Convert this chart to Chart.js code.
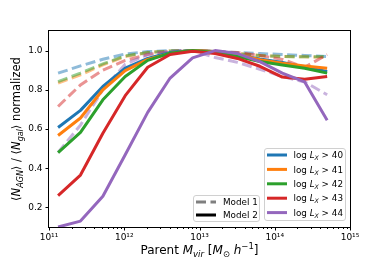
<!DOCTYPE html>
<html lang="en">
<head>
  <meta charset="UTF-8" />
  <title>AGN fraction vs parent halo mass</title>
  <style>
    body { margin: 0; background: #fff; }
    canvas { display: block; }
  </style>
  <script src="https://cdn.jsdelivr.net/npm/chart.js"></script>
</head>
<body>
  <canvas id="chart" width="390" height="260"></canvas>
  <script>
    // DATA
    const MASS = [1.32e11, 2.62e11, 5.2e11, 1.03e12, 2.05e12, 4.07e12, 8.09e12,
                  1.61e13, 3.19e13, 6.34e13, 1.26e14, 2.5e14, 4.97e14];

    // Model 1 (dashed, faded)
    const M1_L40 = [0.885, 0.922, 0.956, 0.983, 0.995, 1.0, 1.0, 0.995, 0.99, 0.985, 0.98, 0.975, 0.97];
    const M1_L41 = [0.834, 0.876, 0.927, 0.97, 0.99, 0.998, 1.0, 0.995, 0.985, 0.975, 0.97, 0.968, 0.965];
    const M1_L42 = [0.842, 0.885, 0.932, 0.973, 0.99, 0.998, 1.0, 0.995, 0.985, 0.975, 0.97, 0.968, 0.97];
    const M1_L43 = [0.715, 0.825, 0.9, 0.95, 0.98, 0.995, 1.0, 0.995, 0.99, 0.975, 0.955, 0.915, 0.98];
    const M1_L44 = [0.48, 0.62, 0.8, 0.93, 0.98, 0.995, 1.0, 0.965, 0.94, 0.905, 0.868, 0.84, 0.775];

    // Model 2 (solid)
    const M2_L40 = [0.608, 0.695, 0.817, 0.91, 0.96, 0.99, 1.0, 0.995, 0.978, 0.957, 0.94, 0.915, 0.893];
    const M2_L41 = [0.567, 0.656, 0.8, 0.898, 0.955, 0.985, 1.0, 0.995, 0.98, 0.953, 0.936, 0.922, 0.91];
    const M2_L42 = [0.48, 0.583, 0.749, 0.868, 0.95, 0.987, 1.0, 0.99, 0.97, 0.944, 0.927, 0.91, 0.885];
    const M2_L43 = [0.26, 0.365, 0.578, 0.77, 0.915, 0.98, 0.997, 0.985, 0.96, 0.92, 0.865, 0.854, 0.868];
    const M2_L44 = [0.1, 0.13, 0.257, 0.469, 0.685, 0.86, 0.963, 1.0, 0.985, 0.944, 0.885, 0.84, 0.645];

    const THRESHOLDS = ['40', '41', '42', '43', '44'];
    const COLORS = ['#1f77b4', '#ff7f0e', '#2ca02c', '#d62728', '#9467bd'];
    const MODEL1 = [M1_L40, M1_L41, M1_L42, M1_L43, M1_L44];
    const MODEL2 = [M2_L40, M2_L41, M2_L42, M2_L43, M2_L44];

    const X_TICKS = [1e11, 1e12, 1e13, 1e14, 1e15];
    const X_TICK_LABELS = ['10¹¹', '10¹²', '10¹³', '10¹⁴', '10¹⁵'];
    const Y_TICKS = [0.2, 0.4, 0.6, 0.8, 1.0];
    const Y_TICK_LABELS = ['0.2', '0.4', '0.6', '0.8', '1.0'];

    const FONT = 'DejaVu Sans';

    function fade(hex, a) {
      const n = parseInt(hex.slice(1), 16);
      return `rgba(${n >> 16},${(n >> 8) & 255},${n & 255},${a})`;
    }

    // later thresholds on top, solid over dashed (lower order = drawn later)
    const datasets = [];
    THRESHOLDS.forEach((t, i) => {
      datasets.push({
        data: MASS.map((m, j) => ({ x: m, y: MODEL1[i][j] })),
        borderColor: fade(COLORS[i], 0.5), borderWidth: 3, borderDash: [10, 4.5],
        order: 20 - i
      });
      datasets.push({
        data: MASS.map((m, j) => ({ x: m, y: MODEL2[i][j] })),
        borderColor: COLORS[i], borderWidth: 3, borderJoinStyle: 'round',
        order: 10 - i
      });
    });

    // draw a run of mixed-style text pieces starting at x (baseline y)
    function runsWidth(ctx, runs) {
      let w = 0;
      runs.forEach(r => { ctx.font = r.f; w += ctx.measureText(r.t).width; });
      return w;
    }
    function drawRuns(ctx, runs, x, y) {
      runs.forEach(r => {
        ctx.font = r.f;
        ctx.fillText(r.t, x, y + (r.dy || 0));
        x += ctx.measureText(r.t).width;
      });
    }

    const decorations = {
      id: 'decorations',
      afterDraw(chart) {
        const ctx = chart.ctx;
        const a = chart.chartArea;
        const xs = chart.scales.x, ys = chart.scales.y;
        ctx.save();
        ctx.strokeStyle = '#000';
        ctx.fillStyle = '#000';
        ctx.lineWidth = 1;
        ctx.strokeRect(a.left - 0.5, a.top - 0.5, a.right - a.left + 1, a.bottom - a.top + 1);

        // x ticks (major + minor)
        ctx.beginPath();
        for (let e = 11; e <= 15; e++) {
          for (let k = 1; k <= 9; k++) {
            const v = k * Math.pow(10, e);
            if (v > 1e15) break;
            const px = Math.round(xs.getPixelForValue(v)) + 0.5;
            const len = k === 1 ? 3.5 : 2;
            ctx.moveTo(px, a.bottom);
            ctx.lineTo(px, a.bottom + len);
          }
        }
        Y_TICKS.forEach(v => {
          const py = Math.round(ys.getPixelForValue(v)) + 0.5;
          ctx.moveTo(a.left, py);
          ctx.lineTo(a.left - 3.5, py);
        });
        ctx.stroke();

        ctx.textBaseline = 'alphabetic';
        // x title
        const sz = 12, sub = 8.5;
        const xt = [
          { t: 'Parent ', f: `${sz}px ${FONT}` },
          { t: 'M', f: `italic ${sz}px ${FONT}` },
          { t: 'vir', f: `italic ${sub}px ${FONT}`, dy: 2.5 },
          { t: ' [', f: `${sz}px ${FONT}` },
          { t: 'M', f: `italic ${sz}px ${FONT}` },
          { t: '⊙', f: `${sub}px ${FONT}`, dy: 2.5 },
          { t: ' ', f: `${sz}px ${FONT}` },
          { t: 'h', f: `italic ${sz}px ${FONT}` },
          { t: '−1', f: `${sub}px ${FONT}`, dy: -5 },
          { t: ']', f: `${sz}px ${FONT}` }
        ];
        const xcx = (a.left + a.right) / 2;
        drawRuns(ctx, xt, xcx - runsWidth(ctx, xt) / 2, 254);

        // y title
        const ysz = 11.5, ysub = 8;
        const yt = [
          { t: '⟨', f: `${ysz}px ${FONT}` },
          { t: 'N', f: `italic ${ysz}px ${FONT}` },
          { t: 'AGN', f: `italic ${ysub}px ${FONT}`, dy: 2.5 },
          { t: '⟩ / ⟨', f: `${ysz}px ${FONT}` },
          { t: 'N', f: `italic ${ysz}px ${FONT}` },
          { t: 'gal', f: `italic ${ysub}px ${FONT}`, dy: 2.5 },
          { t: '⟩ normalized', f: `${ysz}px ${FONT}` }
        ];
        ctx.save();
        ctx.translate(20, (a.top + a.bottom) / 2);
        ctx.rotate(-Math.PI / 2);
        drawRuns(ctx, yt, -runsWidth(ctx, yt) / 2, 0);
        ctx.restore();

        // legend: models
        function box(x0, y0, x1, y1) {
          ctx.beginPath();
          ctx.roundRect(x0 + 0.5, y0 + 0.5, x1 - x0, y1 - y0, 2.5);
          ctx.fillStyle = 'rgba(255,255,255,0.8)';
          ctx.fill();
          ctx.strokeStyle = '#d0d0d0';
          ctx.lineWidth = 1;
          ctx.stroke();
          ctx.fillStyle = '#000';
        }
        const lf = 8.8;
        box(193, 195, 259, 221);
        ctx.lineWidth = 3;
        ctx.strokeStyle = 'rgba(0,0,0,0.5)';
        ctx.setLineDash([10, 4.5]);
        ctx.beginPath(); ctx.moveTo(196, 202); ctx.lineTo(216, 202); ctx.stroke();
        ctx.setLineDash([]);
        ctx.strokeStyle = '#000';
        ctx.beginPath(); ctx.moveTo(196, 215); ctx.lineTo(216, 215); ctx.stroke();
        ctx.font = `${lf}px ${FONT}`;
        ctx.fillText('Model 1', 223, 205.2);
        ctx.fillText('Model 2', 223, 218.4);

        // legend: thresholds
        box(264, 148, 345, 220);
        THRESHOLDS.forEach((t, i) => {
          const yy = 155 + i * 14.4;
          ctx.strokeStyle = COLORS[i];
          ctx.lineWidth = 3;
          ctx.beginPath(); ctx.moveTo(267, yy); ctx.lineTo(287, yy); ctx.stroke();
          drawRuns(ctx, [
            { t: 'log ', f: `${lf}px ${FONT}` },
            { t: 'L', f: `italic ${lf}px ${FONT}` },
            { t: 'X', f: `italic ${lf * 0.7}px ${FONT}`, dy: 2 },
            { t: ' > ' + t, f: `${lf}px ${FONT}` }
          ], 293.5, yy + 3.2);
        });
        ctx.restore();
      }
    };

    new Chart(document.getElementById('chart'), {
      type: 'line',
      data: { datasets },
      options: {
        responsive: false,
        animation: false,
        layout: { padding: { top: 31, right: 40, left: 0, bottom: 0 } },
        plugins: { legend: { display: false }, tooltip: { enabled: false } },
        elements: { point: { radius: 0 }, line: { tension: 0, fill: false } },
        scales: {
          x: {
            type: 'logarithmic', min: 1e11, max: 1e15,
            grid: { display: false, drawTicks: true, tickLength: 3.5 }, border: { display: false },
            afterBuildTicks: s => { s.ticks = X_TICKS.map(v => ({ value: v })); },
            afterFit: s => { s.height = 33; },
            ticks: {
              autoSkip: false, maxRotation: 0, padding: 1.5, color: '#000',
              font: { family: FONT, size: 9 },
              callback: (v, i) => X_TICK_LABELS[i]
            }
          },
          y: {
            type: 'linear', min: 0.1, max: 1.1,
            grid: { display: false, drawTicks: true, tickLength: 3.5 }, border: { display: false },
            afterBuildTicks: s => { s.ticks = Y_TICKS.map(v => ({ value: v })); },
            afterFit: s => { s.width = 49; },
            ticks: {
              padding: 3, color: '#000',
              font: { family: FONT, size: 9 },
              callback: (v, i) => Y_TICK_LABELS[i]
            }
          }
        }
      },
      plugins: [decorations]
    });
  </script>
</body>
</html>
